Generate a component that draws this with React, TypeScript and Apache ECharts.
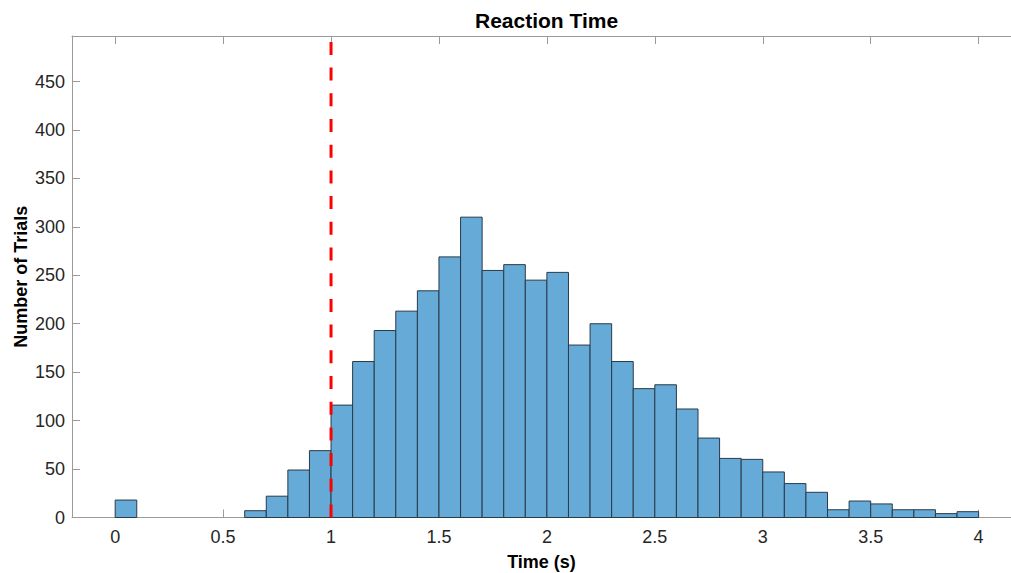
import React, { useEffect, useRef } from "react";
import * as echarts from "echarts";

const binWidth = 0.1;
const binStarts = [0, 0.6, 0.7, 0.8, 0.9, 1.0, 1.1, 1.2, 1.3, 1.4, 1.5, 1.6, 1.7, 1.8, 1.9, 2.0, 2.1, 2.2, 2.3, 2.4, 2.5, 2.6, 2.7, 2.8, 2.9, 3.0, 3.1, 3.2, 3.3, 3.4, 3.5, 3.6, 3.7, 3.8, 3.9];
const counts = [18, 7, 22, 49, 69, 116, 161, 193, 213, 234, 269, 310, 255, 261, 245, 253, 178, 200, 161, 133, 137, 112, 82, 61, 60, 47, 35, 26, 8, 17, 14, 8, 8, 4, 6];
const xTicks = [0, 0.5, 1, 1.5, 2, 2.5, 3, 3.5, 4];
const yTicks = [0, 50, 100, 150, 200, 250, 300, 350, 400, 450];
const thresholdX = 1;
const xRange = [-0.2, 4.15];
const yRange = [0, 497];

const FONT = "'Liberation Sans', Arial, Helvetica, sans-serif";
const AXIS_COLOR = "#9a9a9a";
const TEXT_COLOR = "#262626";

export default function App() {
  const ref = useRef<HTMLDivElement>(null);
  useEffect(() => {
    if (!ref.current) return;
    const chart = echarts.init(ref.current, undefined, { renderer: "svg" });
    const histData = binStarts.map((s, i) => [s, s + binWidth, counts[i]]);
    const tickCommon = {
      show: true,
      inside: true,
      length: 8,
      lineStyle: { color: AXIS_COLOR, width: 1 },
    };
    chart.setOption({
      animation: false,
      backgroundColor: "#ffffff",
      title: {
        text: "Reaction Time",
        left: 470,
        top: 5,
        textStyle: { fontFamily: FONT, fontSize: 21, fontWeight: "bold", color: "#000000" },
      },
      grid: {
        left: 72,
        right: 0,
        top: 36,
        bottom: 55.5,
        containLabel: false,
        outerBoundsMode: "none",
      },
      xAxis: [
        {
          type: "value",
          min: xRange[0],
          max: xRange[1],
          position: "bottom",
          name: "Time (s)",
          nameLocation: "middle",
          nameGap: 35,
          nameMoveOverlap: false,
          nameTextStyle: { fontFamily: FONT, fontSize: 18, fontWeight: "bold", color: "#000000" },
          axisLine: { show: true, onZero: false, lineStyle: { color: AXIS_COLOR, width: 1 } },
          axisTick: { ...tickCommon, customValues: xTicks },
          axisLabel: {
            customValues: xTicks,
            margin: 10,
            fontFamily: FONT,
            fontSize: 18,
            color: TEXT_COLOR,
            formatter: (v: number) => String(v),
          },
          splitLine: { show: false },
        },
        {
          type: "value",
          min: xRange[0],
          max: xRange[1],
          position: "top",
          axisLine: { show: true, onZero: false, lineStyle: { color: AXIS_COLOR, width: 1 } },
          axisTick: { ...tickCommon, customValues: xTicks },
          axisLabel: { show: false },
          splitLine: { show: false },
        },
      ],
      yAxis: {
        type: "value",
        min: yRange[0],
        max: yRange[1],
        position: "left",
        name: "Number of Trials",
        nameLocation: "middle",
        nameGap: 42,
        nameMoveOverlap: false,
        nameTextStyle: { fontFamily: FONT, fontSize: 18, fontWeight: "bold", color: "#000000" },
        axisLine: { show: true, onZero: false, lineStyle: { color: AXIS_COLOR, width: 1 } },
        axisTick: { ...tickCommon, customValues: yTicks },
        axisLabel: {
          customValues: yTicks,
          margin: 7,
          fontFamily: FONT,
          fontSize: 18,
          color: TEXT_COLOR,
        },
        splitLine: { show: false },
      },
      series: [
        {
          type: "custom",
          xAxisIndex: 0,
          encode: { x: [0, 1], y: 2 },
          data: histData,
          renderItem: (params: any, api: any) => {
            const x0 = api.value(0);
            const x1 = api.value(1);
            const y = api.value(2);
            const p0 = api.coord([x0, y]);
            const p1 = api.coord([x1, 0]);
            return {
              type: "rect",
              shape: { x: p0[0], y: p0[1], width: p1[0] - p0[0], height: p1[1] - p0[1] },
              style: { fill: "#66aad7", stroke: "#2a3a48", lineWidth: 1 },
            };
          },
          z: 2,
        },
        {
          type: "line",
          xAxisIndex: 0,
          data: [
            [thresholdX, yRange[0]],
            [thresholdX, yRange[1]],
          ],
          symbol: "none",
          lineStyle: { color: "#ff0000", width: 3, type: [13, 12.7] },
          z: 5,
        },
      ],
    });
    return () => chart.dispose();
  }, []);
  return (
    <div
      ref={ref}
      style={{ position: "fixed", left: 0, top: 0, width: 1011, height: 573, background: "#fff" }}
    />
  );
}
